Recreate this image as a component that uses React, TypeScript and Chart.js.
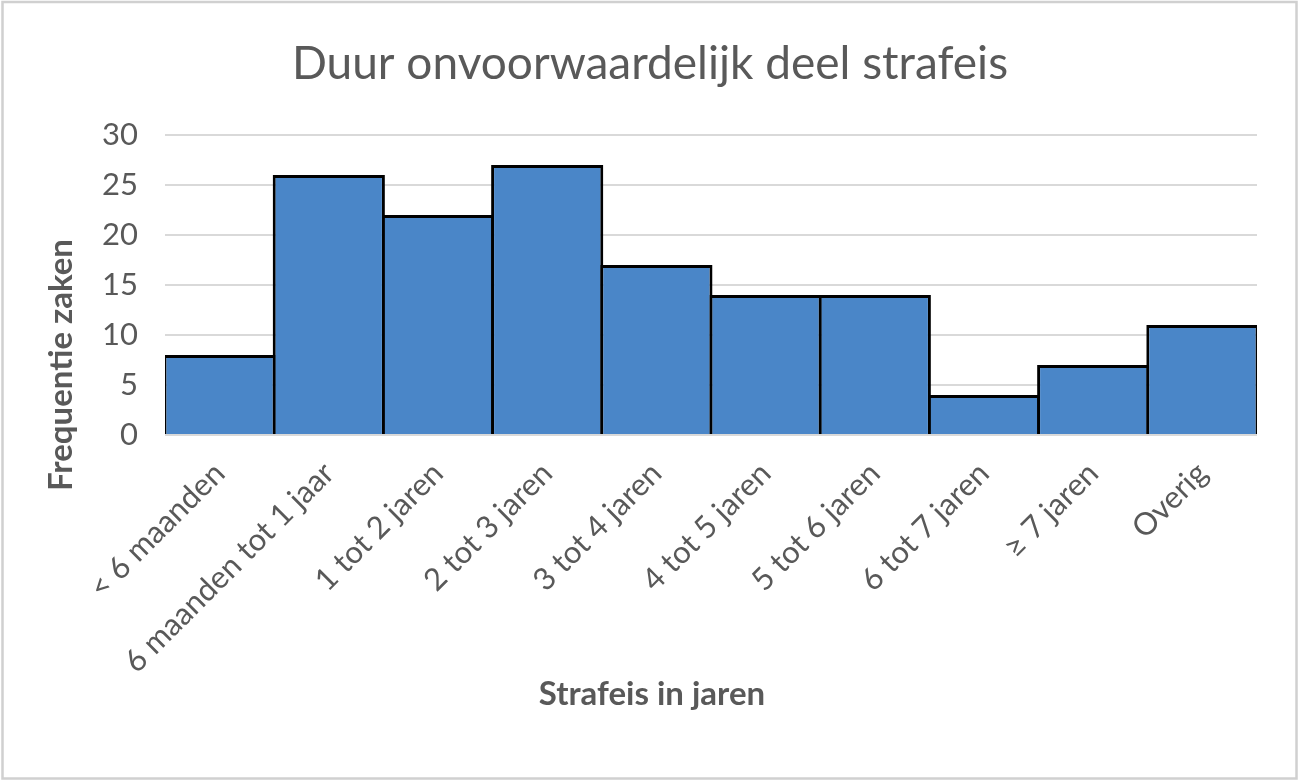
import { useEffect, useRef } from "react";
import { Chart, registerables } from "chart.js";

Chart.register(...registerables);

const categories = [
  "< 6 maanden",
  "6 maanden tot 1 jaar",
  "1 tot 2 jaren",
  "2 tot 3 jaren",
  "3 tot 4 jaren",
  "4 tot 5 jaren",
  "5 tot 6 jaren",
  "6 tot 7 jaren",
  "≥ 7 jaren",
  "Overig",
];
const frequencies = [8, 26, 22, 27, 17, 14, 14, 4, 7, 11];
const yMin = 0;
const yMax = 30;
const yStep = 5;
const chartTitle = "Duur onvoorwaardelijk deel strafeis";
const yAxisTitle = "Frequentie zaken";
const xAxisTitle = "Strafeis in jaren";

const FONT = "Lato, 'Open Sans', sans-serif";
const TEXT = "#595959";

const decoPlugin = {
  id: "deco",
  beforeDraw(chart: any) {
    const ctx = chart.ctx;
    ctx.save();
    ctx.fillStyle = "#ffffff";
    ctx.fillRect(0, 0, chart.width, chart.height);
    ctx.strokeStyle = "#d0d0d0";
    ctx.lineWidth = 2.5;
    ctx.strokeRect(2.5, 2, chart.width - 5, chart.height - 4.5);
    ctx.restore();
  },
  afterDraw(chart: any) {
    const ctx = chart.ctx;
    ctx.save();
    ctx.fillStyle = TEXT;
    ctx.textAlign = "center";
    ctx.textBaseline = "alphabetic";
    ctx.font = `46px ${FONT}`;
    ctx.fillText(chartTitle, 650, 79);

    ctx.font = `bold 33px ${FONT}`;
    ctx.textBaseline = "middle";
    ctx.fillText(xAxisTitle, 652, 694);

    ctx.translate(61, 365);
    ctx.rotate(-Math.PI / 2);
    ctx.fillText(yAxisTitle, 0, 0);
    ctx.restore();
  },
};

export default function App() {
  const canvasRef = useRef<HTMLCanvasElement | null>(null);

  useEffect(() => {
    const canvas = canvasRef.current;
    if (!canvas) return;
    const chart = new Chart(canvas, {
      type: "bar",
      data: {
        labels: categories,
        datasets: [
          {
            data: frequencies,
            backgroundColor: "#4a86c8",
            borderColor: "#000000",
            borderWidth: 3,
            categoryPercentage: 1,
            barPercentage: 1.0275,
          },
        ],
      },
      plugins: [decoPlugin],
      options: {
        animation: false,
        responsive: false,
        maintainAspectRatio: false,
        devicePixelRatio: 1,
        layout: { padding: { left: 0, right: 42, top: 135, bottom: 0 } },
        plugins: {
          legend: { display: false },
          title: { display: false },
          tooltip: { enabled: false },
        },
        scales: {
          x: {
            grid: { display: false },
            border: { display: false },
            ticks: {
              color: TEXT,
              font: { family: FONT, size: 31 },
              minRotation: 45,
              maxRotation: 45,
              padding: 12,
              autoSkip: false,
            },
            afterFit(scale: any) {
              scale.height = 781 - 135 - 300;
            },
          },
          y: {
            min: yMin,
            max: yMax,
            border: { display: false },
            grid: { color: "#d9d9d9", lineWidth: 2, drawTicks: false },
            ticks: {
              stepSize: yStep,
              color: TEXT,
              font: { family: FONT, size: 31 },
              padding: 27,
            },
            afterFit(scale: any) {
              scale.width = 165;
            },
          },
        },
      },
    });
    return () => chart.destroy();
  }, []);

  return (
    <div style={{ position: "absolute", left: 0, top: 0, width: 1299, height: 781 }}>
      <canvas ref={canvasRef} width={1299} height={781} style={{ display: "block" }} />
    </div>
  );
}
